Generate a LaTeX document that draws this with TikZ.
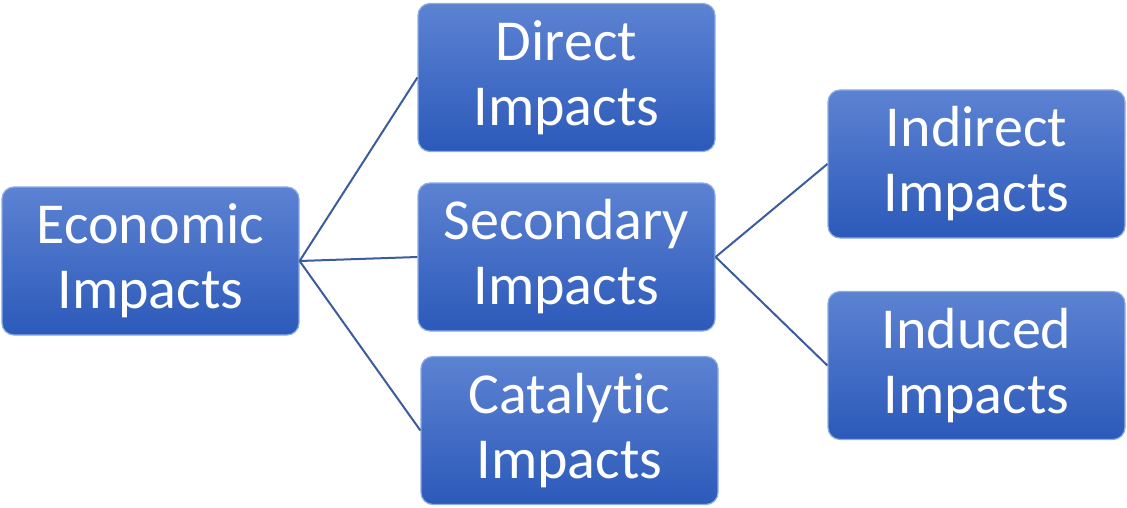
\documentclass[tikz,border=0pt]{standalone}
\usepackage{fontspec}
\setmainfont[Ligatures={NoCommon}]{Carlito}
\begin{document}
\begin{tikzpicture}[x=1pt,y=-1pt,
  impact/.style={draw={rgb,255:red,140;green,172;blue,230}, line width=1.2pt,
    rounded corners=12pt, top color={rgb,255:red,92;green,130;blue,210},
    bottom color={rgb,255:red,44;green,90;blue,186},
    minimum width=297pt, minimum height=148pt, inner sep=0pt,
    text=white, align=center,
    font=\fontsize{58}{65}\selectfont},
  link/.style={draw={rgb,255:red,60;green,92;blue,160}, line width=2pt}]
\useasboundingbox (0,0) rectangle (1127,508);
\node[impact] (econ) at (150.5,261) {Economic\\Impacts};
\node[impact] (direct) at (566.5,77.5) {Direct\\Impacts};
\node[impact] (second) at (566.5,257) {Secondary\\Impacts};
\node[impact] (catal) at (569.5,430.5) {Catalytic\\Impacts};
\node[impact] (indir) at (976.5,164) {Indirect\\Impacts};
\node[impact] (induc) at (976.5,365.5) {Induced\\Impacts};
\draw[link] (econ.east) -- (direct.west);
\draw[link] (econ.east) -- (second.west);
\draw[link] (econ.east) -- (catal.west);
\draw[link] (second.east) -- (indir.west);
\draw[link] (second.east) -- (induc.west);
\end{tikzpicture}
\end{document}
